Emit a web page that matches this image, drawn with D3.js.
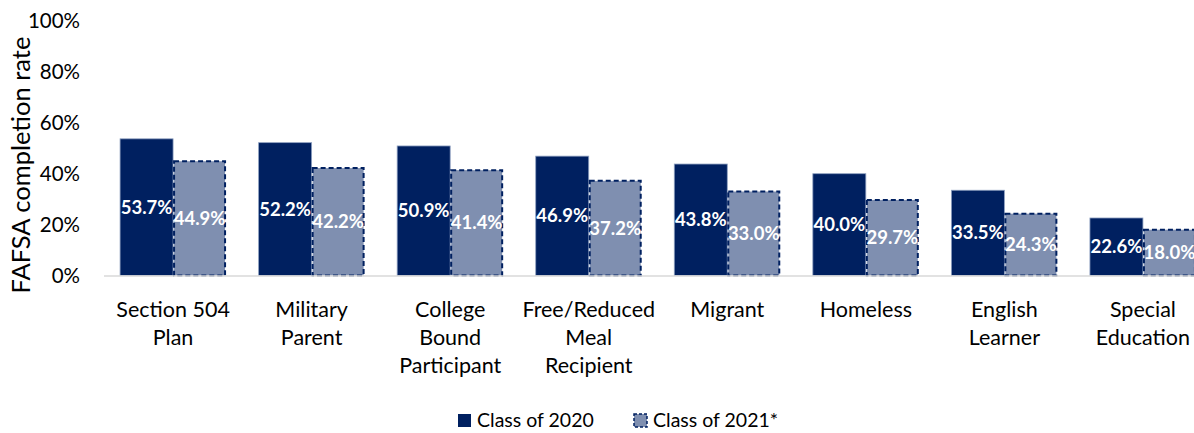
<!DOCTYPE html>
<html>
<head>
<meta charset="utf-8">
<script src="https://cdn.jsdelivr.net/npm/d3@7"></script>
<style>
  html, body { margin: 0; padding: 0; background: #fff; overflow: hidden; }
  svg { display: block; font-family: Lato, "Open Sans", sans-serif; }
</style>
</head>
<body>
<svg id="chart" width="1194" height="433"></svg>
<script>
// Student groups shown along the x axis (multi-line labels)
const categories = [
  ["Section 504", "Plan"],
  ["Military", "Parent"],
  ["College", "Bound", "Participant"],
  ["Free/Reduced", "Meal", "Recipient"],
  ["Migrant"],
  ["Homeless"],
  ["English", "Learner"],
  ["Special", "Education"]
];
const seriesNames = ["Class of 2020", "Class of 2021*"];
const class2020 = [53.7, 52.2, 50.9, 46.9, 43.8, 40.0, 33.5, 22.6];
const class2021 = [44.9, 42.2, 41.4, 37.2, 33.0, 29.7, 24.3, 18.0];
const yTicks = [0, 20, 40, 60, 80, 100];

const svg = d3.select("#chart");
const W = 1194, H = 433;
const plotLeft = 104, plotRight = 1212, plotTop = 21, plotBottom = 275.5;

const x0 = d3.scaleBand()
  .domain(d3.range(categories.length))
  .range([plotLeft, plotRight])
  .paddingInner(0.235)
  .paddingOuter(0.116);
const x1 = d3.scaleBand()
  .domain([0, 1])
  .range([0, x0.bandwidth()]);
const y = d3.scaleLinear().domain([0, 100]).range([plotBottom, plotTop]);

const colors = ["#002060", "#7f8fb0"];

// y axis tick labels
const yAxis = d3.axisLeft(y).tickValues(yTicks).tickFormat(d => d + "%").tickSize(0).tickPadding(0);
const gy = svg.append("g").attr("transform", "translate(80,0)").call(yAxis);
gy.select(".domain").remove();
gy.selectAll("text").attr("font-size", 20.5).attr("fill", "#000")
  .attr("font-family", "Lato, 'Open Sans', sans-serif");

// y axis title
svg.append("text")
  .attr("transform", "translate(30,165) rotate(-90)")
  .attr("text-anchor", "middle")
  .attr("font-size", 25.5)
  .attr("fill", "#000")
  .text("FAFSA completion rate");

const data = categories.map((c, i) => ({ i, vals: [class2020[i], class2021[i]] }));

const groups = svg.append("g").selectAll("g").data(data).join("g")
  .attr("transform", d => `translate(${x0(d.i)},0)`);

// Class of 2020: solid navy bars
groups.append("rect")
  .attr("x", x1(0))
  .attr("y", d => y(d.vals[0]))
  .attr("width", x1.bandwidth())
  .attr("height", d => plotBottom - y(d.vals[0]))
  .attr("fill", colors[0])
  .attr("stroke", "#8ea0c0")
  .attr("stroke-width", 0.8);

// Class of 2021*: lighter bars with dashed navy outline
groups.append("rect")
  .attr("x", x1(1) + 1)
  .attr("y", d => y(d.vals[1]))
  .attr("width", x1.bandwidth() - 2)
  .attr("height", d => plotBottom - y(d.vals[1]))
  .attr("fill", colors[1])
  .attr("stroke", colors[0])
  .attr("stroke-width", 2)
  .attr("stroke-dasharray", "5,3");

// x axis baseline
svg.append("line")
  .attr("x1", plotLeft).attr("x2", W)
  .attr("y1", plotBottom + 0.5).attr("y2", plotBottom + 0.5)
  .attr("stroke", "#d9d9d9").attr("stroke-width", 1.5);

// value labels, centred within each bar
[0, 1].forEach(s => {
  groups.append("text")
    .attr("x", x1(s) + x1.bandwidth() / 2)
    .attr("y", d => (y(d.vals[s]) + plotBottom) / 2)
    .attr("dy", "0.35em")
    .attr("text-anchor", "middle")
    .attr("font-size", 18.5)
    .attr("font-weight", "bold")
    .attr("fill", "#fff")
    .text(d => d.vals[s].toFixed(1) + "%");
});

// category labels
groups.append("text")
  .attr("text-anchor", "middle")
  .attr("font-size", 21.5)
  .attr("fill", "#000")
  .selectAll("tspan")
  .data(d => categories[d.i])
  .join("tspan")
  .attr("x", x0.bandwidth() / 2)
  .attr("y", (d, k) => 317 + k * 28)
  .text(d => d);

// legend
const legend = svg.append("g").attr("transform", "translate(457,413)");
const legendItems = [
  { x: 0, name: seriesNames[0], fill: colors[0], dashed: false },
  { x: 176, name: seriesNames[1], fill: colors[1], dashed: true }
];
legendItems.forEach(it => {
  legend.append("rect")
    .attr("x", it.x + 1).attr("y", 1)
    .attr("width", 13).attr("height", 13)
    .attr("fill", it.fill)
    .attr("stroke", it.dashed ? colors[0] : "none")
    .attr("stroke-width", it.dashed ? 1.5 : 0)
    .attr("stroke-dasharray", it.dashed ? "3,2" : null);
  legend.append("text")
    .attr("x", it.x + 20).attr("y", 14)
    .attr("font-size", 19.5)
    .attr("fill", "#000")
    .text(it.name);
});
</script>
</body>
</html>
